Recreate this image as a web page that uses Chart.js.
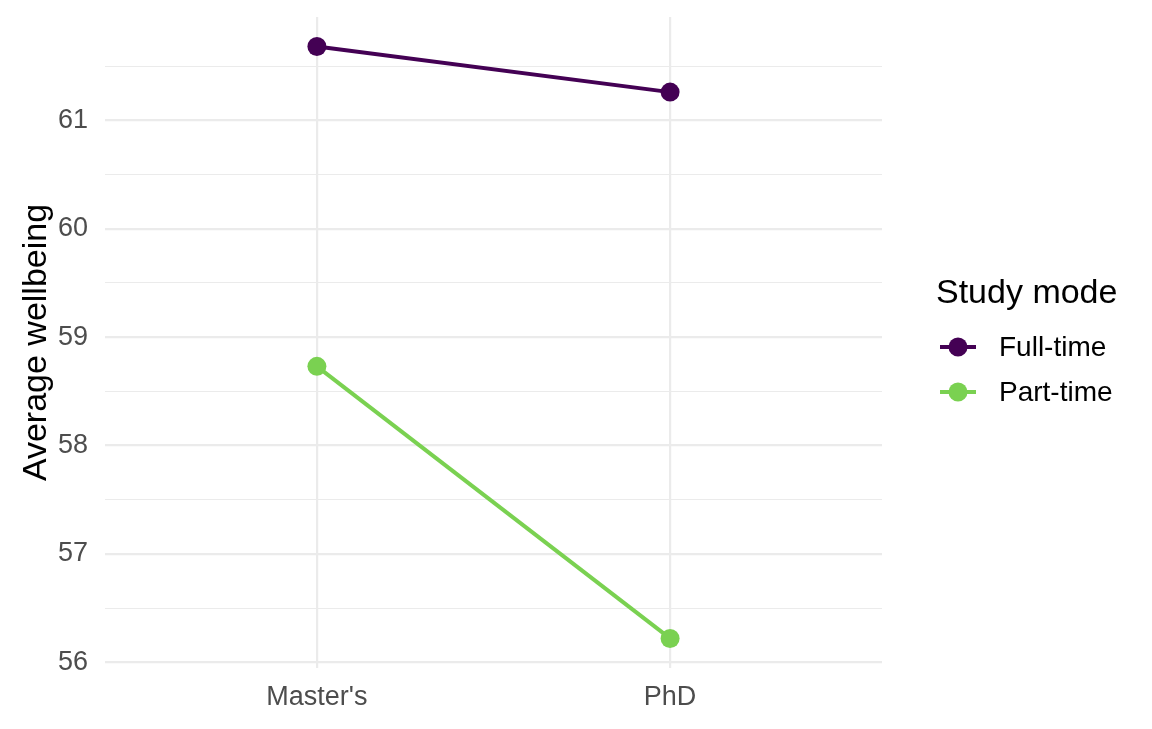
<!DOCTYPE html>
<html>
<head>
<meta charset="utf-8">
<script src="https://cdn.jsdelivr.net/npm/chart.js@4"></script>
<style>
  html, body { margin: 0; padding: 0; background: #fff; }
  #wrap { position: relative; width: 1152px; height: 729px; font-family: "Liberation Sans", Arial, sans-serif; }
  #legend { position: absolute; left: 936px; top: 0; }
  #legend .title { position: absolute; top: 271px; left: 0; font-size: 34px; line-height: 40px; color: #000; white-space: nowrap; }
  #legend .item { position: absolute; left: 4px; display: flex; align-items: center; height: 40px; font-size: 28px; color: #000; white-space: nowrap; }
  #legend canvas { margin-right: 23px; }
</style>
</head>
<body>
<div id="wrap">
  <canvas id="myChart" width="1152" height="729"></canvas>
  <div id="legend"></div>
</div>
<script>
const degrees = ["Master's", "PhD"]
const seriesNames = ["Full-time", "Part-time"]
const fullTime = [61.68, 61.26]
const partTime = [58.73, 56.22]
const seriesColors = ["#440154", "#7AD151"]
const yTicks = [56, 56.5, 57, 57.5, 58, 58.5, 59, 59.5, 60, 60.5, 61, 61.5]

const allValues = [fullTime, partTime]

let datasets = []
for (let i = 0; i < seriesNames.length; i++) {
  let points = []
  for (let j = 0; j < degrees.length; j++) {
    points.push({ x: j + 1, y: allValues[i][j] })
  }
  datasets.push({
    label: seriesNames[i],
    data: points,
    borderColor: seriesColors[i],
    backgroundColor: seriesColors[i],
    borderWidth: 4,
    pointRadius: 9.5,
    pointHoverRadius: 9.5,
    pointBorderWidth: 0,
  })
}

// ggplot style 5% expansion
let lo = Math.min(...fullTime, ...partTime)
let hi = Math.max(...fullTime, ...partTime)
let pad = (hi - lo) * 0.05

new Chart(document.getElementById("myChart"), {
  type: "line",
  data: { datasets: datasets },
  options: {
    responsive: false,
    animation: false,
    layout: { padding: { left: 0, right: 270, top: 17, bottom: 0 } },
    plugins: { legend: { display: false }, tooltip: { enabled: false } },
    scales: {
      x: {
        type: "linear",
        min: 0.4,
        max: 2.6,
        afterBuildTicks: (axis) => {
          axis.ticks = degrees.map((d, i) => ({ value: i + 1 }))
        },
        afterFit: (axis) => {
          axis.height = 61
          axis.paddingLeft = 0
          axis.paddingRight = 0
        },
        ticks: {
          callback: (v) => degrees[v - 1],
          color: "#4D4D4D",
          font: { family: "Liberation Sans", size: 27 },
          padding: 13,
        },
        grid: { color: "#EBEBEB", lineWidth: 2.2, drawTicks: false },
        border: { display: false },
      },
      y: {
        min: lo - pad,
        max: hi + pad,
        afterBuildTicks: (axis) => {
          axis.ticks = yTicks.map((v) => ({ value: v }))
        },
        afterFit: (axis) => {
          axis.width = 105
          axis.paddingTop = 0
          axis.paddingBottom = 0
        },
        ticks: {
          callback: (v) => (Number.isInteger(v) ? v : ""),
          color: "#4D4D4D",
          font: { family: "Liberation Sans", size: 27 },
          padding: 17,
        },
        grid: {
          color: "#EBEBEB",
          lineWidth: (ctx) => (ctx.tick && Number.isInteger(ctx.tick.value) ? 2.2 : 1.1),
          drawTicks: false,
        },
        border: { display: false },
        title: {
          display: true,
          text: "Average wellbeing",
          color: "#000",
          font: { family: "Liberation Sans", size: 34 },
          padding: { top: 16, bottom: 3 },
        },
      },
    },
  },
})

// legend in ggplot style
let legend = document.getElementById("legend")
let t = document.createElement("div")
t.className = "title"
t.textContent = "Study mode"
legend.appendChild(t)
let itemTops = [327, 372]
for (let i = 0; i < seriesNames.length; i++) {
  let item = document.createElement("div")
  item.className = "item"
  item.style.top = itemTops[i] + "px"
  let key = document.createElement("canvas")
  key.width = 36
  key.height = 22
  let c = key.getContext("2d")
  c.strokeStyle = seriesColors[i]
  c.fillStyle = seriesColors[i]
  c.lineWidth = 4
  c.beginPath()
  c.moveTo(0, 11)
  c.lineTo(36, 11)
  c.stroke()
  c.beginPath()
  c.arc(18, 11, 9.5, 0, Math.PI * 2)
  c.fill()
  let label = document.createElement("span")
  label.textContent = seriesNames[i]
  item.appendChild(key)
  item.appendChild(label)
  legend.appendChild(item)
}
</script>
</body>
</html>
